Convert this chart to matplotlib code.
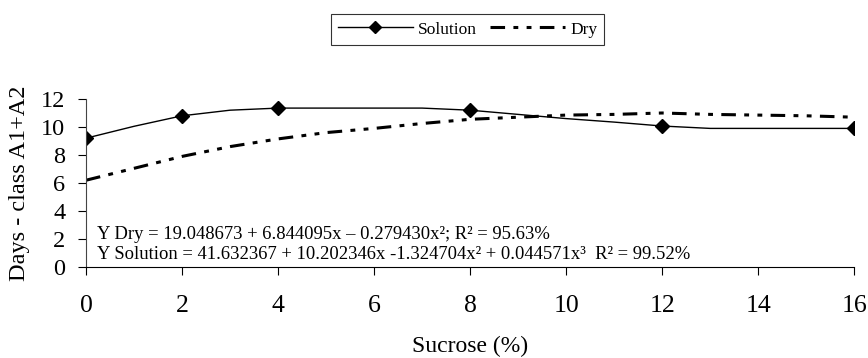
import numpy as np
import matplotlib
matplotlib.use('Agg')
import matplotlib.pyplot as plt

plt.rcParams['font.family'] = ['Liberation Serif', 'DejaVu Serif']
plt.rcParams['lines.scale_dashes'] = False

# values
sucrose = [0, 2, 4, 8, 12, 16]
solution = [9.2, 10.8, 11.35, 11.2, 10.07, 9.9]

curve_x = list(range(0, 17))
solution_curve = [9.2, 10.05, 10.8, 11.2, 11.35, 11.35, 11.35, 11.35, 11.2,
                  10.9, 10.6, 10.35, 10.07, 9.9, 9.9, 9.9, 9.9]
dry_curve = [6.2, 7.05, 7.9, 8.6, 9.15, 9.6, 9.9, 10.25, 10.55,
             10.7, 10.85, 10.9, 11.0, 10.9, 10.85, 10.8, 10.7]

xticks = [0, 2, 4, 6, 8, 10, 12, 14, 16]
yticks = [0, 2, 4, 6, 8, 10, 12]

eq_dry = 'Y Dry = 19.048673 + 6.844095x \u2013 0.279430x\u00b2; R\u00b2 = 95.63%'
eq_sol = 'Y Solution = 41.632367 + 10.202346x -1.324704x\u00b2 + 0.044571x\u00b3  R\u00b2 = 99.52%'

dry_dash = (10.5, 6, 3.5, 6, 3.5, 6)

fig = plt.figure(figsize=(8.68, 3.58), dpi=100)
ax = fig.add_axes([0.0991, 0.254, 0.885, 0.4695])

ax.plot(curve_x, solution_curve, color='black', lw=1.0)
ax.plot(sucrose, solution, ls='none', marker='D', ms=7, color='black')
ax.plot(curve_x, dry_curve, color='black', lw=2.2, dashes=dry_dash,
        dash_capstyle='butt')

# legend handles
h_sol, = ax.plot([], [], color='black', lw=1.0, marker='D', ms=6)
h_dry, = ax.plot([], [], color='black', lw=2.2, dashes=dry_dash)
leg = fig.legend([h_sol, h_dry], ['Solution', 'Dry'], loc='center',
                 bbox_to_anchor=(0.5386, 0.9176), ncol=2, frameon=True,
                 fancybox=False, edgecolor='black', fontsize=12.5,
                 handlelength=4.35, columnspacing=0.7, handletextpad=0.3,
                 borderpad=0.4, borderaxespad=0, numpoints=1)
leg.get_frame().set_linewidth(0.8)

ax.set_xlim(0, 16)
ax.set_ylim(0, 12)
ax.set_xticks(xticks)
ax.set_yticks(yticks)
ax.tick_params(axis='both', direction='out', length=6, width=0.8)
ax.tick_params(axis='x', pad=14, labelsize=18.5)
ax.tick_params(axis='y', pad=9, labelsize=17.5)
ax.spines['top'].set_visible(False)
ax.spines['right'].set_visible(False)
ax.spines['left'].set_color('#444444')
ax.set_xlabel('Sucrose (%)', fontsize=17)
ax.set_ylabel('Days - class A1+A2', fontsize=17.5)
ax.xaxis.set_label_coords(0.5, -0.41)
ax.yaxis.set_label_coords(-0.073, 0.5)

ax.text(0.23, 2.36, eq_dry, fontsize=13.4, va='center', ha='left')
ax.text(0.23, 0.93, eq_sol, fontsize=13.4, va='center', ha='left')

fig.savefig('out.png', dpi=100)
